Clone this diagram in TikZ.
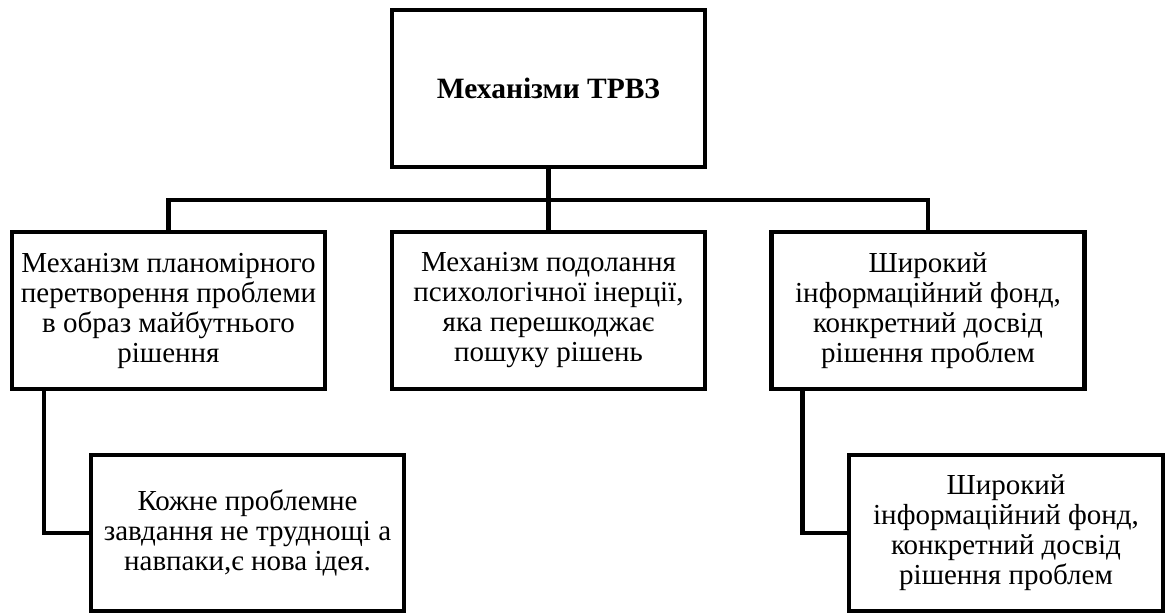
\documentclass[tikz,border=0pt]{standalone}
\usepackage{fontspec}
\setmainfont{Liberation Serif}
\tikzset{
  boxnode/.style={draw, line width=4.5pt, minimum width=313pt, minimum height=157pt,
    inner sep=0pt, outer sep=0pt, align=center, font=\fontsize{29}{30}\selectfont},
  conn/.style={line width=4.5pt, line join=miter}
}
\begin{document}
\begin{tikzpicture}[x=1pt,y=-1pt]
\useasboundingbox (0,0) rectangle (1170,613);
\node[boxnode, font=\bfseries\fontsize{29.5}{30}\selectfont] (top) at (548.5,88.5) {Механізми ТРВЗ};
\node[boxnode] (l1) at (168.5,310.5) {Механізм планомірного\\перетворення проблеми\\в образ майбутнього\\рішення};
\node[boxnode] (m1) at (548.5,310.5) {Механізм подолання\\психологічної інерції,\\яка перешкоджає\\пошуку рішень};
\node[boxnode] (r1) at (928,310.5) {Широкий\\інформаційний фонд,\\конкретний досвід\\рішення проблем};
\node[boxnode, minimum height=156pt] (l2) at (247.5,533) {Кожне проблемне\\завдання не труднощі а\\навпаки,є нова ідея.};
\node[boxnode, minimum height=156pt, minimum width=314pt] (r2) at (1006,533) {Широкий\\інформаційний фонд,\\конкретний досвід\\рішення проблем};
\coordinate (bus) at (548.5,200);
\draw[conn] (top.south) -- (m1.north);
\draw[conn] (l1.north) |- (bus) -| (r1.north);
\draw[conn] ([xshift=32pt]l1.south west) |- (l2.west);
\draw[conn] ([xshift=31pt]r1.south west) |- (r2.west);
\end{tikzpicture}
\end{document}
